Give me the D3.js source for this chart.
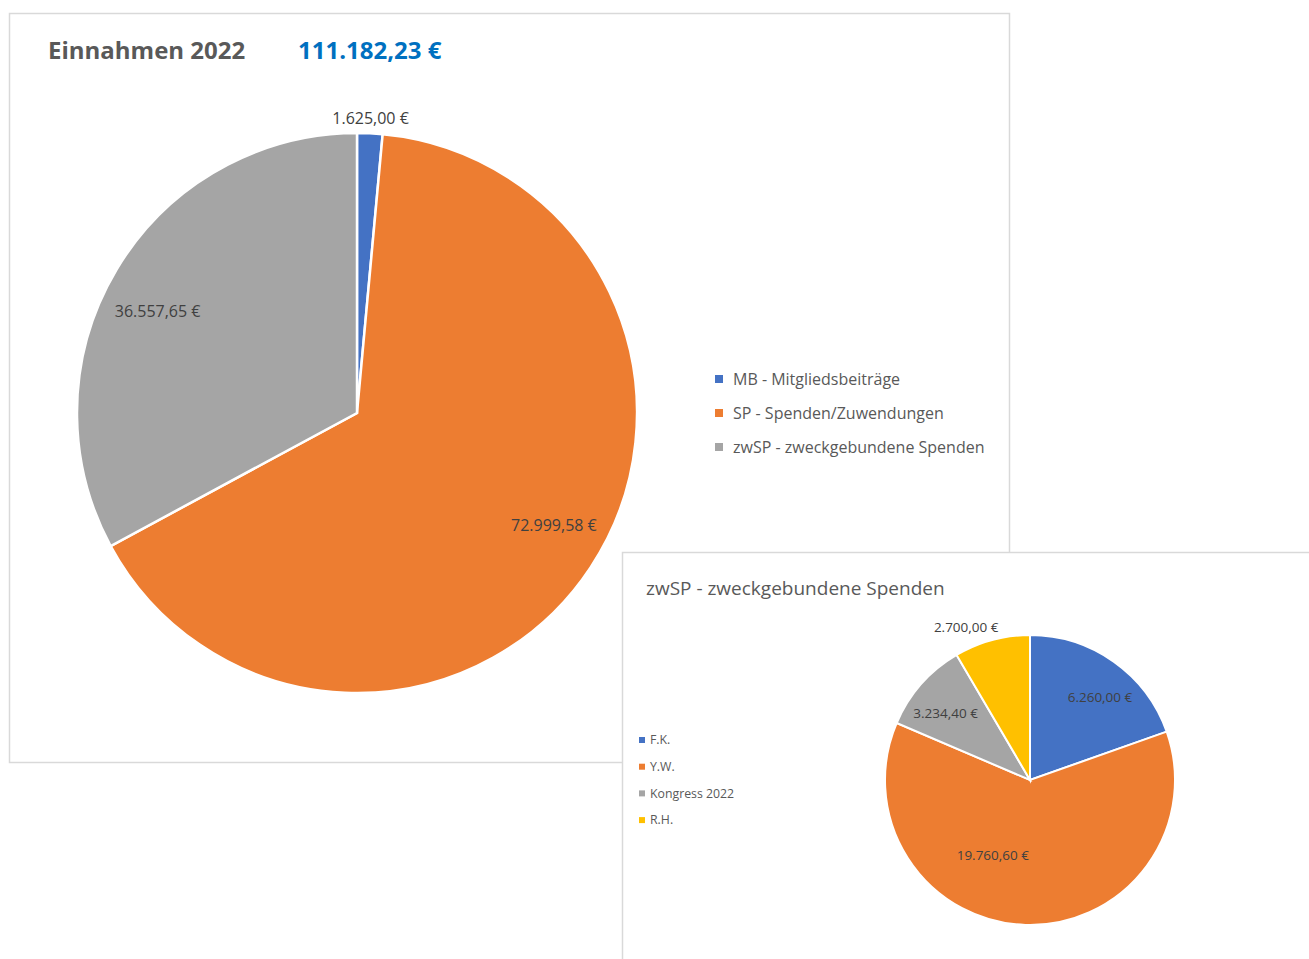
<!DOCTYPE html>
<html>
<head>
<meta charset="utf-8">
<script src="https://cdn.jsdelivr.net/npm/d3@7"></script>
<style>
  body { margin: 0; background: #fff; }
  text { font-family: "Open Sans", "Noto Sans", sans-serif; }
</style>
</head>
<body>
<svg id="chart" width="1309" height="959"></svg>
<script>
// main chart data
var mainCategories = ["MB - Mitgliedsbeiträge", "SP - Spenden/Zuwendungen", "zwSP - zweckgebundene Spenden"];
var mainValues = [1625.00, 72999.58, 36557.65];
var mainLabels = ["1.625,00 €", "72.999,58 €", "36.557,65 €"];
var mainTotal = "111.182,23 €";

// sub chart data (zwSP)
var subCategories = ["F.K.", "Y.W.", "Kongress 2022", "R.H."];
var subValues = [6260.00, 19760.60, 3234.40, 2700.00];
var subLabels = ["6.260,00 €", "19.760,60 €", "3.234,40 €", "2.700,00 €"];

var colors = ["#4472c4", "#ed7d31", "#a5a5a5", "#ffc000"];
var textColor = "#595959";
var labelColor = "#404040";

var svg = d3.select("#chart");
var pie = d3.pie().sort(null).value(d => d);

// label position: radius factor and small angle nudge (degrees), like Excel's best fit
function labelPos(d, r, factor, nudge) {
    var a = (d.startAngle + d.endAngle) / 2 + nudge * Math.PI / 180;
    return [Math.sin(a) * r * factor, -Math.cos(a) * r * factor];
}

// ---------- panel 1 ----------
var p1 = svg.append("g");
p1.append("rect")
    .attr("x", 9.5).attr("y", 13.5)
    .attr("width", 1000).attr("height", 749)
    .attr("fill", "#fff")
    .attr("stroke", "#d9d9d9")
    .attr("stroke-width", 1.5);

p1.append("text")
    .attr("x", 48).attr("y", 59)
    .attr("font-size", "24px")
    .attr("font-weight", "bold")
    .attr("fill", textColor)
    .text("Einnahmen 2022");

p1.append("text")
    .attr("x", 298).attr("y", 59)
    .attr("font-size", "24px")
    .attr("font-weight", "bold")
    .attr("fill", "#0070c0")
    .text(mainTotal);

var radius1 = 280;
var arcs1 = pie(mainValues);
var arc1 = d3.arc().innerRadius(0).outerRadius(radius1);
var labelFactor1 = [1.054, 0.81, 0.8];
var labelNudge1 = [0, -3.7, -3.7];

var g1 = p1.append("g").attr("transform", "translate(357,413)");
g1.selectAll("path")
    .data(arcs1)
    .enter().append("path")
    .attr("d", arc1)
    .attr("fill", (d, i) => colors[i])
    .attr("stroke", "white")
    .attr("stroke-width", "2.5px");

g1.selectAll("text")
    .data(arcs1)
    .enter().append("text")
    .attr("transform", (d, i) => `translate(${labelPos(d, radius1, labelFactor1[i], labelNudge1[i])})`)
    .attr("text-anchor", "middle")
    .attr("dy", "0.35em")
    .attr("font-size", "16px")
    .attr("fill", labelColor)
    .text((d, i) => mainLabels[i]);

var legend1 = p1.append("g").attr("transform", "translate(715,379)");
var li1 = legend1.selectAll("g")
    .data(mainCategories)
    .enter().append("g")
    .attr("transform", (d, i) => `translate(0,${i * 34})`);
li1.append("rect")
    .attr("x", 0).attr("y", -4)
    .attr("width", 8).attr("height", 8)
    .attr("fill", (d, i) => colors[i]);
li1.append("text")
    .attr("x", 18).attr("dy", "0.35em")
    .attr("font-size", "16px")
    .attr("fill", textColor)
    .text(d => d);

// ---------- panel 2 ----------
var p2 = svg.append("g");
p2.append("rect")
    .attr("x", 622.5).attr("y", 552.5)
    .attr("width", 720).attr("height", 440)
    .attr("fill", "#fff")
    .attr("stroke", "#d9d9d9")
    .attr("stroke-width", 1.5);

p2.append("text")
    .attr("x", 646).attr("y", 595)
    .attr("font-size", "19px")
    .attr("fill", textColor)
    .text("zwSP - zweckgebundene Spenden");

var radius2 = 145;
var arcs2 = pie(subValues);
var arc2 = d3.arc().innerRadius(0).outerRadius(radius2);
var labelFactor2 = [0.75, 0.58, 0.74, 1.14];
var labelNudge2 = [4.8, 24.4, -3.2, -7.5];

var g2 = p2.append("g").attr("transform", "translate(1030,780)");
g2.selectAll("path")
    .data(arcs2)
    .enter().append("path")
    .attr("d", arc2)
    .attr("fill", (d, i) => colors[i])
    .attr("stroke", "white")
    .attr("stroke-width", "2px");

g2.selectAll("text")
    .data(arcs2)
    .enter().append("text")
    .attr("transform", (d, i) => `translate(${labelPos(d, radius2, labelFactor2[i], labelNudge2[i])})`)
    .attr("text-anchor", "middle")
    .attr("dy", "0.35em")
    .attr("font-size", "13.5px")
    .attr("fill", labelColor)
    .text((d, i) => subLabels[i]);

var legend2 = p2.append("g").attr("transform", "translate(639,740)");
var li2 = legend2.selectAll("g")
    .data(subCategories)
    .enter().append("g")
    .attr("transform", (d, i) => `translate(0,${i * 26.7})`);
li2.append("rect")
    .attr("x", 0).attr("y", -3)
    .attr("width", 6).attr("height", 6)
    .attr("fill", (d, i) => colors[i]);
li2.append("text")
    .attr("x", 11).attr("dy", "0.35em")
    .attr("font-size", "12.3px")
    .attr("fill", textColor)
    .text(d => d);
</script>
</body>
</html>
